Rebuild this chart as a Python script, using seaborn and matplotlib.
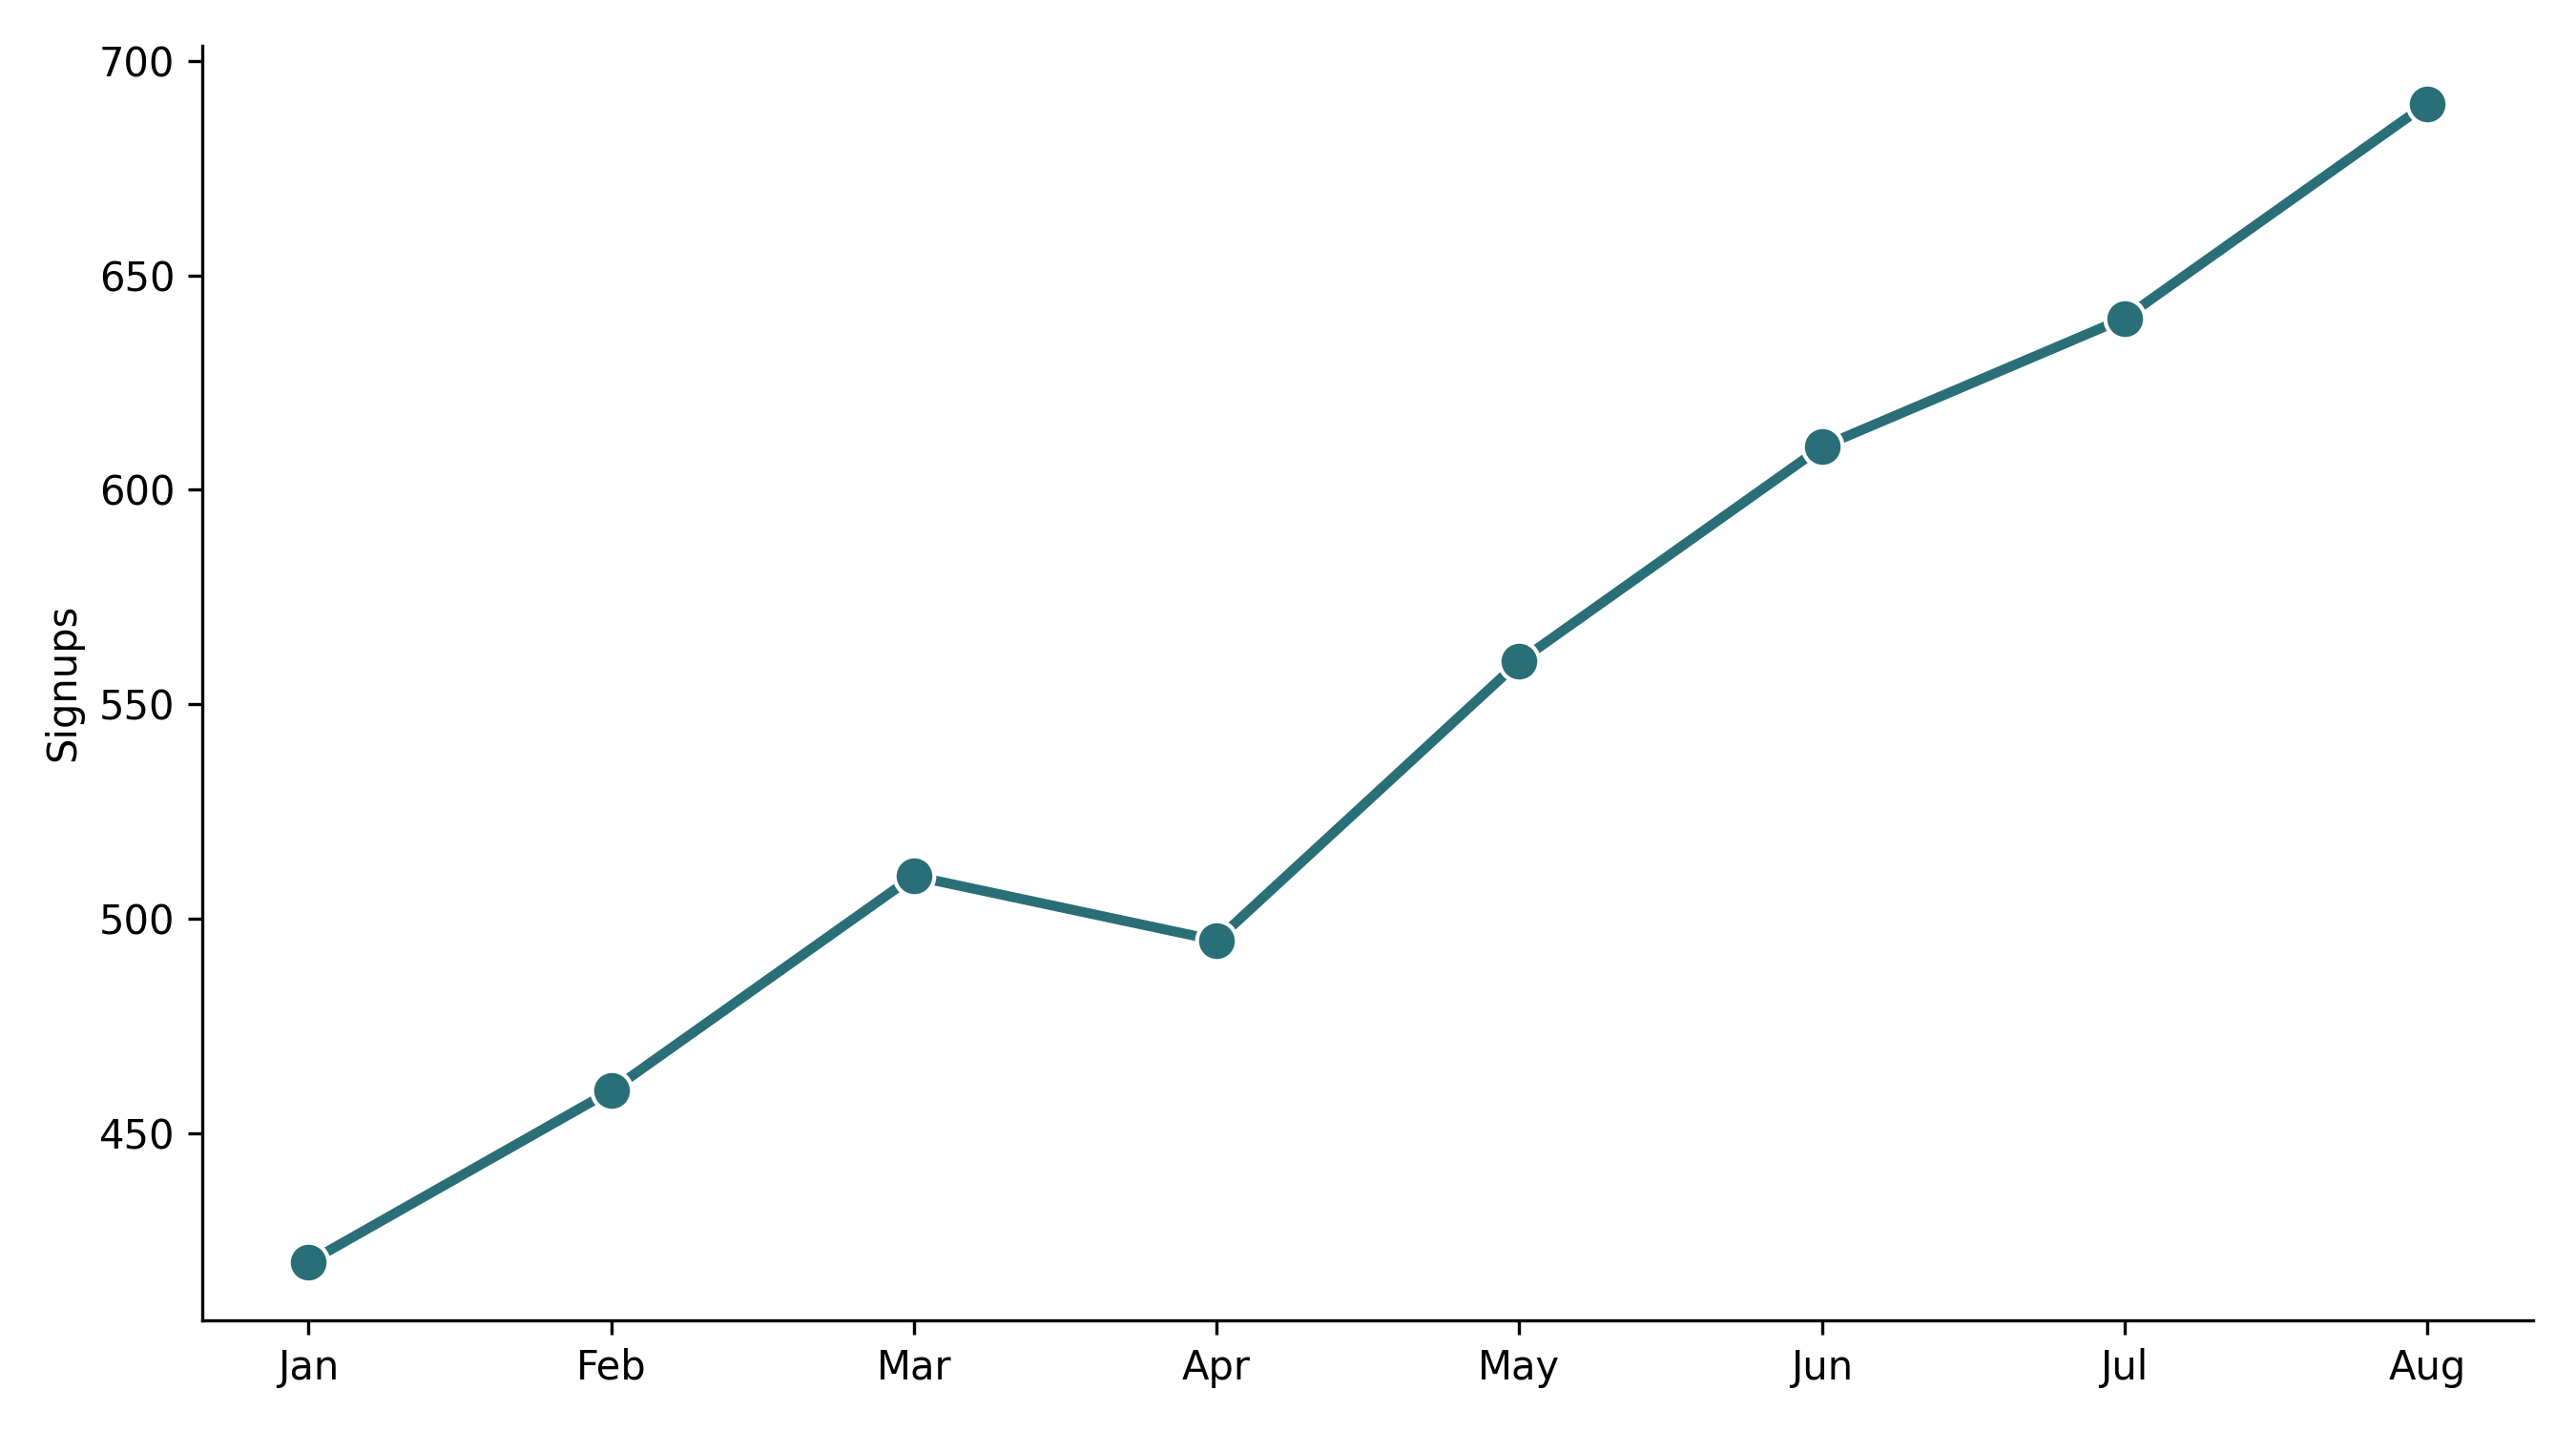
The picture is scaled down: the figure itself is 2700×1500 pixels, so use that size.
import pandas as pd
import matplotlib.pyplot as plt
import seaborn as sns

# Monthly signups
months = ['Jan', 'Feb', 'Mar', 'Apr', 'May', 'Jun', 'Jul', 'Aug']
signups = [420, 460, 510, 495, 560, 610, 640, 690]

df = pd.DataFrame({'month': months, 'signups': signups})

sns.set_style('ticks', {'text.color': 'black', 'axes.labelcolor': 'black',
                        'xtick.color': 'black', 'ytick.color': 'black',
                        'axes.edgecolor': 'black'})
fig, ax = plt.subplots(figsize=(9, 5), dpi=300)

sns.lineplot(data=df, x='month', y='signups', color='#2a6f77', linewidth=2.5,
             marker='o', markersize=10, markeredgecolor='white', markeredgewidth=1,
             sort=False, ax=ax)

ax.set_xlabel('')
ax.set_ylabel('Signups')
sns.despine()
plt.tight_layout()
plt.savefig('out.png')
